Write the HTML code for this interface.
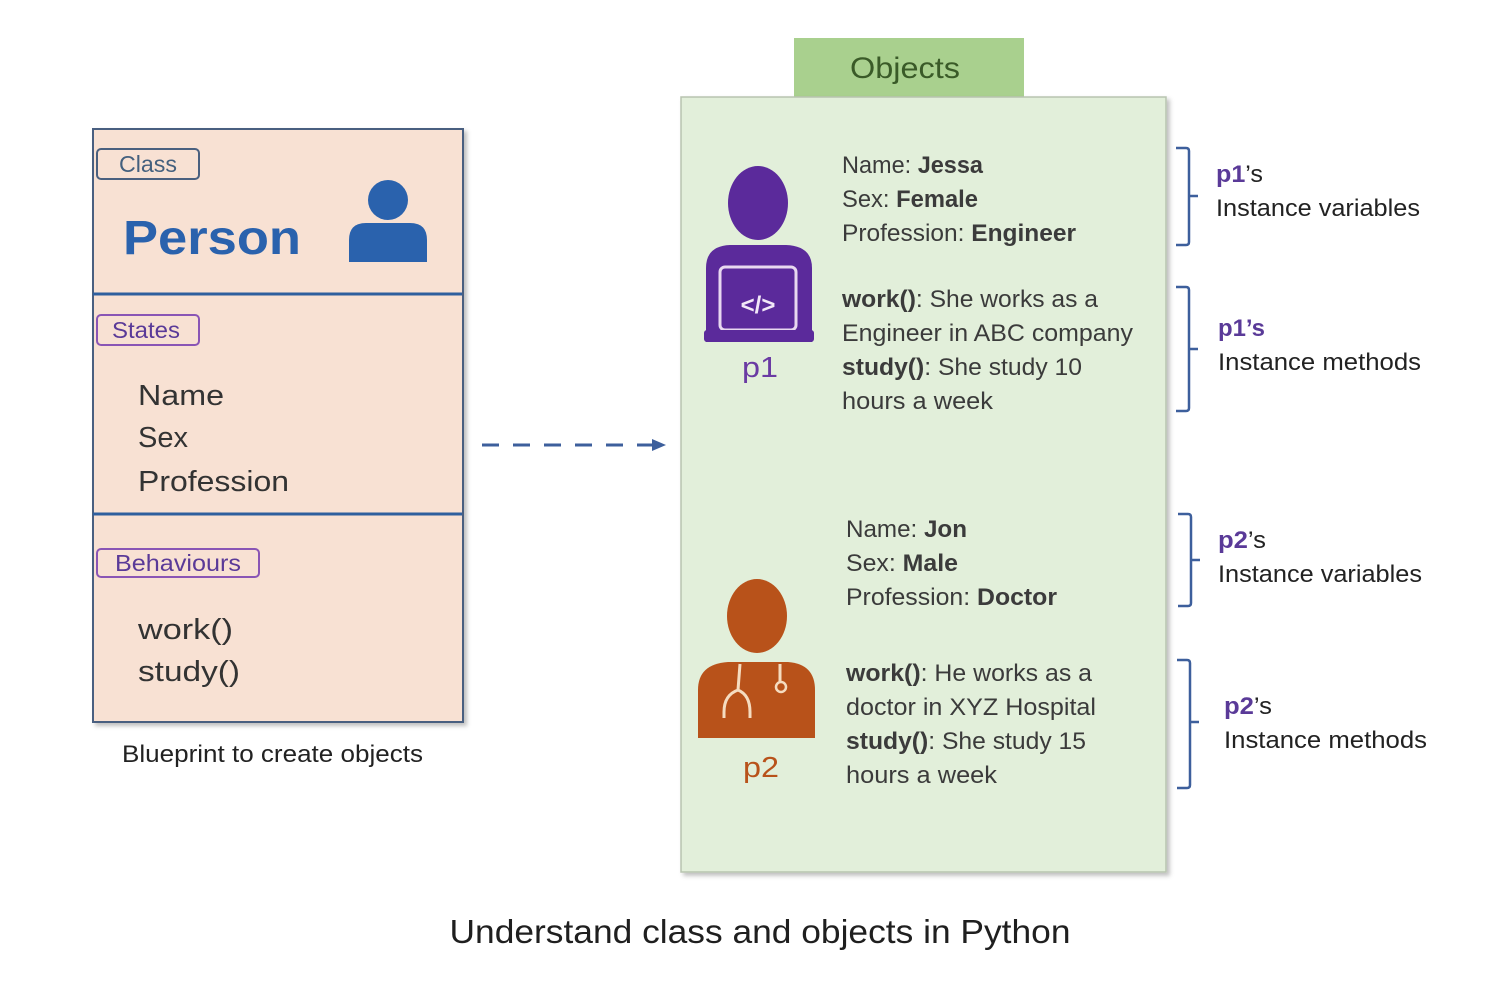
<!DOCTYPE html>
<html><head><meta charset="utf-8"><style>
html,body{margin:0;padding:0;background:#fff;}
svg{display:block;}
text{font-family:"Liberation Sans",sans-serif;}
</style></head><body>
<svg width="1510" height="990" viewBox="0 0 1510 990" xmlns="http://www.w3.org/2000/svg">
<defs>
<filter id="sh" x="-5%" y="-5%" width="110%" height="110%"><feDropShadow dx="3" dy="3" stdDeviation="2" flood-color="#000" flood-opacity="0.25"/></filter>
</defs>
<rect x="93" y="129" width="370" height="593" fill="#f8e1d3" stroke="#4a5f80" stroke-width="2" filter="url(#sh)"/>
<line x1="93" y1="294" x2="462" y2="294" stroke="#2f5f9e" stroke-width="3"/>
<line x1="93" y1="514" x2="462" y2="514" stroke="#2f5f9e" stroke-width="3"/>
<rect x="97" y="149" width="102" height="30" rx="4" fill="none" stroke="#4a607f" stroke-width="2"/>
<text x="148" y="172" font-size="23" fill="#44607e" text-anchor="middle" textLength="58" lengthAdjust="spacingAndGlyphs">Class</text>
<text x="123" y="254" font-size="48" font-weight="bold" fill="#2a62ad" textLength="178" lengthAdjust="spacingAndGlyphs">Person</text>
<circle cx="388" cy="200" r="20" fill="#2a62ad"/>
<path d="M349 262 L349 240 Q349 223 366 223 L410 223 Q427 223 427 240 L427 262 Z" fill="#2a62ad"/>
<rect x="97" y="315" width="102" height="30" rx="4" fill="none" stroke="#8a55b5" stroke-width="2"/>
<text x="146" y="338" font-size="23" fill="#5a3a98" text-anchor="middle" textLength="68" lengthAdjust="spacingAndGlyphs">States</text>
<text x="138" y="405" font-size="29" fill="#333" textLength="86" lengthAdjust="spacingAndGlyphs">Name</text>
<text x="138" y="447" font-size="29" fill="#333" textLength="50" lengthAdjust="spacingAndGlyphs">Sex</text>
<text x="138" y="491" font-size="29" fill="#333" textLength="151" lengthAdjust="spacingAndGlyphs">Profession</text>
<rect x="97" y="549" width="162" height="28" rx="4" fill="none" stroke="#8a55b5" stroke-width="2"/>
<text x="178" y="571" font-size="23" fill="#5a3a98" text-anchor="middle" textLength="126" lengthAdjust="spacingAndGlyphs">Behaviours</text>
<text x="138" y="639" font-size="29" fill="#333" textLength="95" lengthAdjust="spacingAndGlyphs">work()</text>
<text x="138" y="681" font-size="29" fill="#333" textLength="102" lengthAdjust="spacingAndGlyphs">study()</text>
<text x="122" y="762" font-size="24" fill="#222" textLength="301" lengthAdjust="spacingAndGlyphs">Blueprint to create objects</text>
<line x1="482" y1="445" x2="655" y2="445" stroke="#3d5f9c" stroke-width="3" stroke-dasharray="17 14"/>
<path d="M652 439 L666 445 L652 451 Z" fill="#3d5f9c"/>
<rect x="794" y="38" width="230" height="60" fill="#a9d08e"/>
<text x="905" y="78" font-size="30" fill="#3a5a28" text-anchor="middle" textLength="110" lengthAdjust="spacingAndGlyphs">Objects</text>
<rect x="681" y="97" width="485" height="775" fill="#e2efda" stroke="#b8c4b0" stroke-width="1.5" filter="url(#sh)"/>
<ellipse cx="758" cy="203" rx="30" ry="37" fill="#5b2a9b"/>
<path d="M706 342 L706 268 Q706 246 730 245 L786 245 Q812 246 812 268 L812 342 Z" fill="#5b2a9b"/>
<rect x="720" y="267" width="76" height="63" rx="5" fill="#5b2a9b" stroke="#e8d8f0" stroke-width="3"/>
<rect x="704" y="330" width="110" height="12" rx="3" fill="#5b2a9b"/>
<text x="758" y="313" font-size="24" font-weight="bold" fill="#f2e8f8" text-anchor="middle">&lt;/&gt;</text>
<text x="760" y="377" font-size="29" fill="#6a3aa3" text-anchor="middle" textLength="36" lengthAdjust="spacingAndGlyphs">p1</text>
<ellipse cx="757" cy="616" rx="30" ry="37" fill="#b8521a"/>
<path d="M698 738 L698 690 Q698 664 728 662 L788 662 Q815 664 815 690 L815 738 Z" fill="#b8521a"/>
<path d="M740 664 L738 690 Q724 695 724 712 L724 718 M738 690 Q750 695 750 712 L750 718" fill="none" stroke="#f5dcc0" stroke-width="3"/>
<path d="M780 664 L780 682" stroke="#f5dcc0" stroke-width="3"/>
<circle cx="781" cy="687" r="5" fill="none" stroke="#f5dcc0" stroke-width="2.5"/>
<text x="761" y="777" font-size="29" fill="#b8521a" text-anchor="middle" textLength="36" lengthAdjust="spacingAndGlyphs">p2</text>
<g font-size="24" fill="#3b3b3b">
<text x="842" y="173" textLength="141" lengthAdjust="spacingAndGlyphs">Name: <tspan font-weight="bold">Jessa</tspan></text>
<text x="842" y="207" textLength="136" lengthAdjust="spacingAndGlyphs">Sex: <tspan font-weight="bold">Female</tspan></text>
<text x="842" y="241" textLength="234" lengthAdjust="spacingAndGlyphs">Profession: <tspan font-weight="bold">Engineer</tspan></text>
<text x="842" y="307" textLength="256" lengthAdjust="spacingAndGlyphs"><tspan font-weight="bold">work()</tspan>: She works as a</text>
<text x="842" y="341" textLength="291" lengthAdjust="spacingAndGlyphs">Engineer in ABC company</text>
<text x="842" y="375" textLength="240" lengthAdjust="spacingAndGlyphs"><tspan font-weight="bold">study()</tspan>: She study 10</text>
<text x="842" y="409" textLength="151" lengthAdjust="spacingAndGlyphs">hours a week</text>
<text x="846" y="537" textLength="121" lengthAdjust="spacingAndGlyphs">Name: <tspan font-weight="bold">Jon</tspan></text>
<text x="846" y="571" textLength="112" lengthAdjust="spacingAndGlyphs">Sex: <tspan font-weight="bold">Male</tspan></text>
<text x="846" y="605" textLength="211" lengthAdjust="spacingAndGlyphs">Profession: <tspan font-weight="bold">Doctor</tspan></text>
<text x="846" y="681" textLength="246" lengthAdjust="spacingAndGlyphs"><tspan font-weight="bold">work()</tspan>: He works as a</text>
<text x="846" y="715" textLength="250" lengthAdjust="spacingAndGlyphs">doctor in XYZ Hospital</text>
<text x="846" y="749" textLength="240" lengthAdjust="spacingAndGlyphs"><tspan font-weight="bold">study()</tspan>: She study 15</text>
<text x="846" y="783" textLength="151" lengthAdjust="spacingAndGlyphs">hours a week</text>
</g>
<g fill="none" stroke="#3d5f9c" stroke-width="2.5">
<path d="M1176 148 L1186 148 Q1189 148 1189 151 L1189 242 Q1189 245 1186 245 L1176 245 M1189 196 L1198 196"/>
<path d="M1176 287 L1186 287 Q1189 287 1189 290 L1189 408 Q1189 411 1186 411 L1176 411 M1189 349 L1198 349"/>
<path d="M1178 514 L1188 514 Q1191 514 1191 517 L1191 603 Q1191 606 1188 606 L1178 606 M1191 560 L1200 560"/>
<path d="M1177 660 L1187 660 Q1190 660 1190 663 L1190 785 Q1190 788 1187 788 L1177 788 M1190 722 L1199 722"/>
</g>
<g font-size="24" fill="#222">
<text x="1216" y="182" textLength="47" lengthAdjust="spacingAndGlyphs"><tspan fill="#5a3a98" font-weight="bold">p1</tspan>’s</text>
<text x="1216" y="216" textLength="204" lengthAdjust="spacingAndGlyphs">Instance variables</text>
<text x="1218" y="336" font-weight="bold" fill="#5a3a98" textLength="47" lengthAdjust="spacingAndGlyphs">p1’s</text>
<text x="1218" y="370" textLength="203" lengthAdjust="spacingAndGlyphs">Instance methods</text>
<text x="1218" y="548" textLength="48" lengthAdjust="spacingAndGlyphs"><tspan fill="#5a3a98" font-weight="bold">p2</tspan>’s</text>
<text x="1218" y="582" textLength="204" lengthAdjust="spacingAndGlyphs">Instance variables</text>
<text x="1224" y="714" textLength="48" lengthAdjust="spacingAndGlyphs"><tspan fill="#5a3a98" font-weight="bold">p2</tspan>’s</text>
<text x="1224" y="748" textLength="203" lengthAdjust="spacingAndGlyphs">Instance methods</text>
</g>
<text x="760" y="943" font-size="33" fill="#1f1f1f" text-anchor="middle" textLength="621" lengthAdjust="spacingAndGlyphs">Understand class and objects in Python</text>
</svg>
</body></html>
